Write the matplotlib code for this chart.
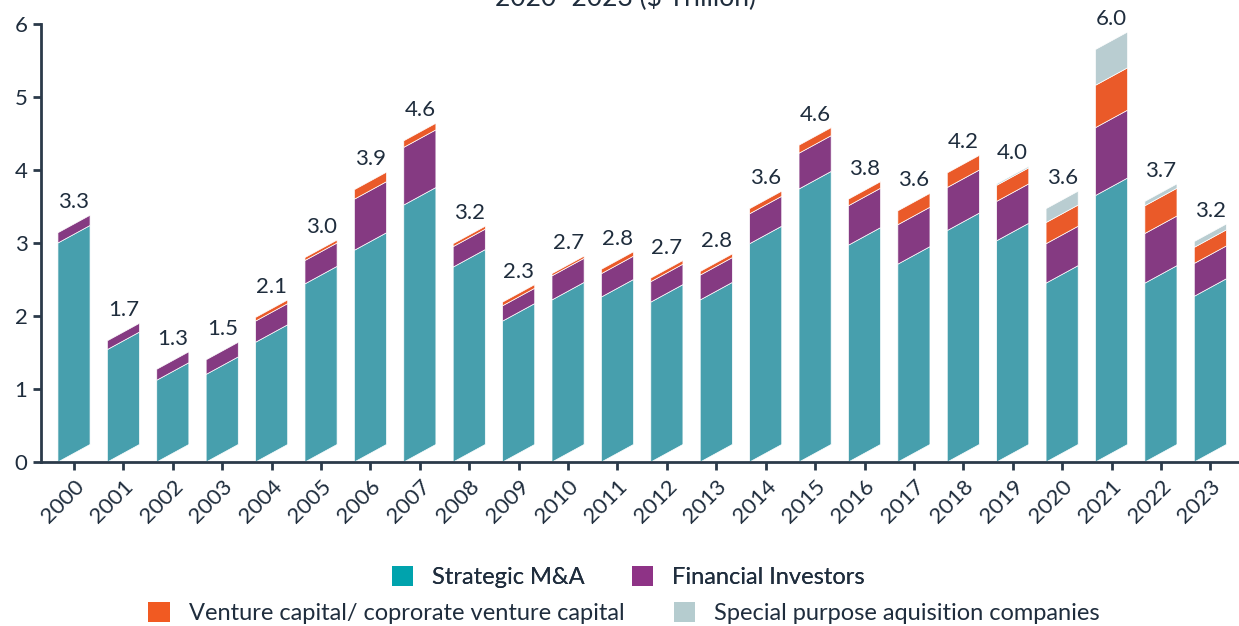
import numpy as np
import matplotlib
matplotlib.use('Agg')
import matplotlib.pyplot as plt
from matplotlib.patches import Patch

plt.rcParams['font.family'] = ['Lato', 'DejaVu Sans']

years = [str(y) for y in range(2000, 2024)]
strategic = [3.00, 1.54, 1.12, 1.20, 1.64, 2.44, 2.90, 3.52, 2.67, 1.93, 2.22, 2.26,
             2.19, 2.22, 2.99, 3.74, 2.97, 2.71, 3.17, 3.03, 2.45, 3.65, 2.45, 2.27]
financial = [0.14, 0.12, 0.15, 0.20, 0.29, 0.32, 0.70, 0.79, 0.28, 0.21, 0.33, 0.32,
             0.28, 0.34, 0.41, 0.49, 0.54, 0.54, 0.59, 0.54, 0.54, 0.93, 0.68, 0.45]
venture = [0.00, 0.00, 0.00, 0.00, 0.05, 0.04, 0.13, 0.09, 0.04, 0.05, 0.03, 0.06,
           0.05, 0.05, 0.07, 0.11, 0.09, 0.19, 0.20, 0.22, 0.29, 0.58, 0.38, 0.22]
spac = [0.00, 0.00, 0.00, 0.00, 0.00, 0.00, 0.00, 0.00, 0.00, 0.00, 0.00, 0.00,
        0.00, 0.00, 0.00, 0.00, 0.00, 0.00, 0.00, 0.02, 0.19, 0.49, 0.06, 0.08]
totals = ['3.3', '1.7', '1.3', '1.5', '2.1', '3.0', '3.9', '4.6', '3.2', '2.3', '2.7', '2.8',
          '2.7', '2.8', '3.6', '4.6', '3.8', '3.6', '4.2', '4.0', '3.6', '6.0', '3.7', '3.2']

series = [('Strategic M&A', strategic, '#479fad', '#00a3ad'),
          ('Financial Investors', financial, '#853a82', '#8e3386'),
          ('Venture capital/ coprorate venture capital', venture, '#ea5a29', '#f15a22'),
          ('Special purpose aquisition companies', spac, '#b9cdd1', '#b5cccf')]

text_color = '#1f2d3d'
axis_color = '#2b3a4a'
width = 0.65
slant = 0.24

fig = plt.figure(figsize=(12.39, 6.26), dpi=100)
ax = fig.add_axes([40.7 / 1239, 1 - 462 / 626, 1 - 40.7 / 1239, (462 - 24) / 626])

x = np.arange(len(years))
bottom = np.zeros(len(years))
for name, vals, col, _ in series:
    vals = np.array(vals)
    for i in range(len(years)):
        if vals[i] <= 0:
            continue
        b, t = bottom[i], bottom[i] + vals[i]
        xl, xr = x[i] - width / 2, x[i] + width / 2
        ax.fill([xl, xr, xr, xl], [b, b + slant, t + slant, t],
                facecolor=col, edgecolor='white', linewidth=0.5, zorder=2)
    bottom += vals

# total labels above each bar
for i in range(len(years)):
    ax.text(x[i], bottom[i] + slant + 0.04, totals[i], ha='center', va='bottom',
            fontsize=16, color=text_color)

ax.set_xlim(-0.674, 23.58)
ax.set_ylim(0, 6)
ax.set_xticks(x)
ax.set_xticklabels(years, rotation=45, ha='right', rotation_mode='anchor')
ax.set_yticks(range(0, 7))
for sp in ['top', 'right']:
    ax.spines[sp].set_visible(False)
for sp in ['left', 'bottom']:
    ax.spines[sp].set_color(axis_color)
    ax.spines[sp].set_linewidth(2)
ax.tick_params(axis='both', colors=axis_color, labelcolor=text_color, labelsize=16,
               width=2, length=6)
ax.tick_params(axis='x', pad=4)

# title, cut at top edge like the source
fig.text(0.505, 1 - 6 / 626, '2020–2023 ($ Trillion)', ha='center', va='baseline',
         fontsize=19, color=text_color)

# legend in two rows
handles = [Patch(facecolor=s[3], edgecolor='none', label=s[0]) for s in series]
leg1 = fig.legend(handles=handles[:2], loc='center', bbox_to_anchor=(628 / 1239, 1 - 577 / 626),
                  ncol=2, frameon=False, fontsize=17, handlelength=0.9, handleheight=0.9,
                  handletextpad=0.8, columnspacing=2.0, labelcolor=text_color)
fig.add_artist(leg1)
fig.legend(handles=handles[2:], loc='center', bbox_to_anchor=(624 / 1239, 1 - 613 / 626),
           ncol=2, frameon=False, fontsize=17, handlelength=0.9, handleheight=0.9,
           handletextpad=0.8, columnspacing=2.1, labelcolor=text_color)

fig.savefig('out.png', dpi=100)
